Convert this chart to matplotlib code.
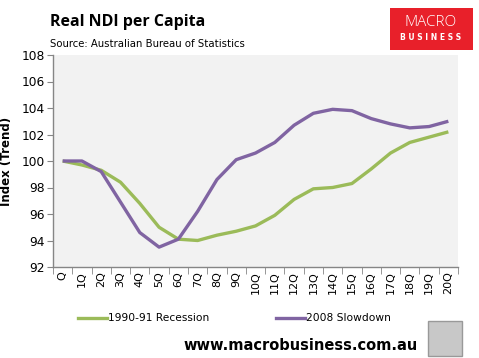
import matplotlib
matplotlib.use("Agg")
import matplotlib.pyplot as plt
import matplotlib.patches as mpatches
import numpy as np

categories = ["Q"] + [f"{i}Q" for i in range(1, 21)]
recession_1990 = [100.0, 99.7, 99.3, 98.4, 96.8, 95.0, 94.1, 94.0, 94.4, 94.7, 95.1,
                  95.9, 97.1, 97.9, 98.0, 98.3, 99.4, 100.6, 101.4, 101.8, 102.2]
slowdown_2008 = [100.0, 100.0, 99.2, 96.9, 94.6, 93.5, 94.1, 96.2, 98.6, 100.1, 100.6,
                 101.4, 102.7, 103.6, 103.9, 103.8, 103.2, 102.8, 102.5, 102.6, 103.0]
yticks = [92, 94, 96, 98, 100, 102, 104, 106, 108]

W, H = 479, 358
fig = plt.figure(figsize=(W/100, H/100), dpi=100)
fig.patch.set_facecolor("white")

ax = fig.add_axes([53/W, 1-267/H, (458-53)/W, (267-55)/H])
ax.set_facecolor("#f2f2f2")
x = np.arange(len(categories))
ax.plot(x, recession_1990, color="#9bbb59", lw=2.4, solid_capstyle="butt")
ax.plot(x, slowdown_2008, color="#8064a2", lw=2.4, solid_capstyle="butt")
ax.set_xlim(-0.5, len(categories)-0.5)
ax.set_ylim(92, 108)
ax.set_yticks(yticks)
ax.set_yticklabels([str(v) for v in yticks], fontsize=8.8, family="DejaVu Sans")
ax.set_xticks(x)
ax.set_xticklabels(categories, rotation=90, fontsize=8, family="DejaVu Sans")
ax.set_xticks(np.arange(-0.5, len(categories)), minor=True)
ax.tick_params(axis="x", which="major", length=0, pad=3)
ax.tick_params(axis="x", which="minor", length=5, color="#868686", direction="out")
ax.tick_params(axis="y", length=4, color="#868686", direction="out", pad=2)
for s in ["top", "right"]:
    ax.spines[s].set_visible(False)
for s in ["left", "bottom"]:
    ax.spines[s].set_color("#868686")
    ax.spines[s].set_linewidth(1)
ax.set_ylabel("Index (Trend)", fontsize=8.5, fontweight="bold", labelpad=6)

# Title and source
fig.text(50/W, 1-22/H, "Real NDI per Capita", fontsize=11.5, fontweight="bold",
         family="Open Sans", va="center", ha="left")
fig.text(50/W, 1-44/H, "Source: Australian Bureau of Statistics", fontsize=7.3,
         family="DejaVu Sans", va="center", ha="left")

# Logo
fig.patches.append(mpatches.Rectangle((390/W, 1-50/H), 83/W, 42/H, transform=fig.transFigure,
                                      facecolor="#e8202a", edgecolor="none"))
fig.text(431/W, 1-23/H, "MACRO", color="white", fontsize=11, ha="center", va="center",
         fontweight="light", family="Open Sans")
fig.text(431/W, 1-37/H, "B U S I N E S S", color="white", fontsize=5.5, ha="center",
         va="center", fontweight="bold")

# Legend
fig.lines.append(plt.Line2D([78/W, 107/W], [1-318/H]*2, color="#9bbb59", lw=2.4,
                            transform=fig.transFigure))
fig.text(108/W, 1-318/H, "1990-91 Recession", fontsize=7.7, va="center", ha="left")
fig.lines.append(plt.Line2D([276/W, 305/W], [1-318/H]*2, color="#8064a2", lw=2.4,
                            transform=fig.transFigure))
fig.text(306/W, 1-318/H, "2008 Slowdown", fontsize=7.7, va="center", ha="left")

# Website
fig.text(418/W, 1-345/H, "www.macrobusiness.com.au", fontsize=10.5, fontweight="bold",
         ha="right", va="center")
fig.patches.append(mpatches.Rectangle((428/W, 1-356/H), 34/W, 35/H, transform=fig.transFigure,
                                      facecolor="#c8c8c8", edgecolor="#999999", lw=1))

fig.savefig("out.png", dpi=100)
